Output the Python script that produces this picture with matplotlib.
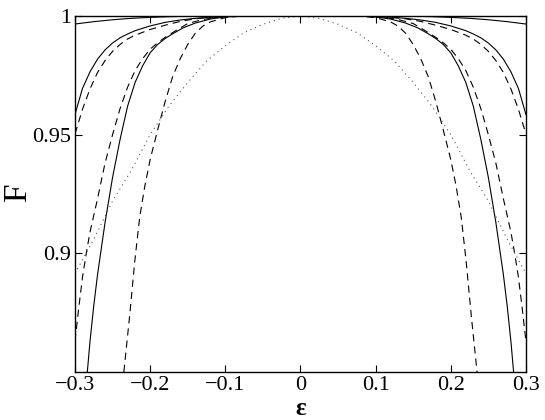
import numpy as np
import matplotlib
matplotlib.use("Agg")
import matplotlib.pyplot as plt

# ---------------- data ----------------
# top solid line, nearly flat
eps_a = [-0.3, -0.275, -0.25, -0.225, -0.2, -0.175, -0.15, -0.1, -0.05, 0.0,
         0.05, 0.1, 0.15, 0.175, 0.2, 0.225, 0.25, 0.275, 0.3]
F_a = [0.9966, 0.9976, 0.9984, 0.9990, 0.9994, 0.9997, 0.9999, 1.0, 1.0, 1.0,
       1.0, 1.0, 0.9999, 0.9997, 0.9994, 0.9990, 0.9984, 0.9976, 0.9966]

# outer solid line
eps_b = [-0.3, -0.29, -0.28, -0.27, -0.26, -0.25, -0.24, -0.23, -0.22, -0.2, -0.18, -0.16,
         -0.14, -0.12, -0.1, -0.05, 0.0, 0.05, 0.1, 0.12, 0.14, 0.16, 0.18, 0.2, 0.22,
         0.23, 0.24, 0.25, 0.26, 0.27, 0.28, 0.29, 0.3]
F_b = [0.9585, 0.9695, 0.9765, 0.9818, 0.9857, 0.9886, 0.9908, 0.9924, 0.9938, 0.9958, 0.9973, 0.9983,
       0.9990, 0.9995, 0.9998, 1.0, 1.0, 1.0, 0.9998, 0.9995, 0.9990, 0.9983, 0.9973, 0.9958, 0.9938,
       0.9924, 0.9908, 0.9886, 0.9857, 0.9818, 0.9765, 0.9695, 0.9585]

# outer dashed line
eps_c = [-0.3, -0.29, -0.28, -0.27, -0.26, -0.25, -0.24, -0.23, -0.22, -0.2, -0.18, -0.16,
         -0.14, -0.12, -0.1, -0.05, 0.0, 0.05, 0.1, 0.12, 0.14, 0.16, 0.18, 0.2, 0.22,
         0.23, 0.24, 0.25, 0.26, 0.27, 0.28, 0.29, 0.3]
F_c = [0.9503, 0.9607, 0.9693, 0.9762, 0.9812, 0.9851, 0.9880, 0.9903, 0.9919, 0.9943, 0.9961, 0.9977,
       0.9988, 0.9994, 0.9998, 1.0, 1.0, 1.0, 0.9998, 0.9994, 0.9988, 0.9977, 0.9961, 0.9943, 0.9919,
       0.9903, 0.9880, 0.9851, 0.9812, 0.9762, 0.9693, 0.9607, 0.9503]

# middle dashed line
eps_d = [-0.3, -0.295, -0.29, -0.285, -0.28, -0.27, -0.26, -0.25, -0.24, -0.23, -0.22, -0.21,
         -0.2, -0.19, -0.18, -0.165, -0.15, -0.13, -0.11, -0.09, -0.05, 0.0,
         0.05, 0.09, 0.11, 0.13, 0.15, 0.165, 0.18, 0.19, 0.2, 0.21, 0.22, 0.23,
         0.24, 0.25, 0.26, 0.27, 0.28, 0.285, 0.29, 0.295, 0.3]
F_d = [0.863, 0.877, 0.890, 0.900, 0.909, 0.923, 0.938, 0.950, 0.961, 0.970, 0.977, 0.982,
       0.986, 0.9887, 0.991, 0.994, 0.9968, 0.9985, 0.9995, 0.9999, 1.0, 1.0,
       1.0, 0.9999, 0.9995, 0.9985, 0.9968, 0.994, 0.991, 0.9887, 0.986, 0.982, 0.977, 0.970,
       0.961, 0.950, 0.938, 0.923, 0.909, 0.900, 0.890, 0.877, 0.863]

# middle solid line
eps_e = [-0.2836, -0.28, -0.275, -0.27, -0.265, -0.26, -0.25, -0.24, -0.23, -0.22, -0.21,
         -0.2, -0.19, -0.18, -0.17, -0.156, -0.14, -0.12, -0.1, -0.08, -0.05, 0.0,
         0.05, 0.08, 0.1, 0.12, 0.14, 0.156, 0.17, 0.18, 0.19, 0.2,
         0.21, 0.22, 0.23, 0.24, 0.25, 0.26, 0.265, 0.27, 0.275, 0.28, 0.2836]
F_e = [0.850, 0.863, 0.878, 0.891, 0.902, 0.913, 0.932, 0.948, 0.962, 0.972, 0.979,
       0.9845, 0.988, 0.9905, 0.9925, 0.995, 0.997, 0.9987, 0.9996, 0.9999, 1.0, 1.0,
       1.0, 0.9999, 0.9996, 0.9987, 0.997, 0.995, 0.9925, 0.9905, 0.988, 0.9845,
       0.979, 0.972, 0.962, 0.948, 0.932, 0.913, 0.902, 0.891, 0.878, 0.863, 0.850]

# inner dashed line
eps_f = [-0.235, -0.2275, -0.2205, -0.214, -0.207, -0.2, -0.19, -0.18, -0.17, -0.16, -0.15,
         -0.14, -0.13, -0.12, -0.1, -0.08, -0.05, 0.0, 0.05, 0.08, 0.1, 0.12, 0.13, 0.14,
         0.15, 0.16, 0.17, 0.18, 0.19, 0.2, 0.207, 0.214, 0.2205, 0.2275, 0.235]
F_f = [0.850, 0.873, 0.8965, 0.915, 0.9285, 0.9395, 0.952, 0.964, 0.9745, 0.982, 0.988,
       0.9927, 0.9957, 0.9975, 0.9993, 0.9999, 1.0, 1.0, 1.0, 0.9999, 0.9993, 0.9975, 0.9957, 0.9927,
       0.988, 0.982, 0.9745, 0.964, 0.952, 0.9395, 0.9285, 0.915, 0.8965, 0.873, 0.850]

# dotted line
eps_g = [-0.3, -0.275, -0.25, -0.225, -0.2, -0.175, -0.15, -0.125, -0.1, -0.075, -0.05, -0.025, 0.0,
         0.025, 0.05, 0.075, 0.1, 0.125, 0.15, 0.175, 0.2, 0.225, 0.25, 0.275, 0.3]
F_g = [0.8915, 0.906, 0.922, 0.935, 0.950, 0.962, 0.972, 0.981, 0.9875, 0.993, 0.9965, 0.999, 1.0,
       0.999, 0.9965, 0.993, 0.9875, 0.981, 0.972, 0.962, 0.950, 0.935, 0.922, 0.906, 0.8915]

x_ticks = [-0.3, -0.2, -0.1, 0, 0.1, 0.2, 0.3]
x_ticklabels = ["\u22120.3", "\u22120.2", "\u22120.1", "0", "0.1", "0.2", "0.3"]
y_ticks = [0.9, 0.95, 1.0]
y_ticklabels = ["0.9", "0.95", "1"]

# ---------------- plot ----------------
plt.rcParams['font.family'] = ['Liberation Serif', 'DejaVu Serif']

fig = plt.figure(figsize=(5.45, 4.2), dpi=100)
ax = fig.add_axes([0.1376, 0.1143, 0.8274, 0.8477])

lw = 0.8
dash = (0, (6.5, 4.5))
ax.plot(eps_a, F_a, color='black', lw=lw)
ax.plot(eps_b, F_b, color='black', lw=lw)
ax.plot(eps_c, F_c, color='black', lw=lw, ls=dash)
ax.plot(eps_d, F_d, color='black', lw=lw, ls=dash)
ax.plot(eps_e, F_e, color='black', lw=lw)
ax.plot(eps_f, F_f, color='black', lw=lw, ls=dash)
ax.plot(eps_g, F_g, color='0.35', lw=0.8, ls=(0, (1, 3.5)))

ax.set_xlim(-0.3, 0.3)
ax.set_ylim(0.85, 1.0)
ax.set_xticks(x_ticks)
ax.set_xticklabels(x_ticklabels)
ax.set_yticks(y_ticks)
ax.set_yticklabels(y_ticklabels)
ax.tick_params(direction='in', top=True, right=True, length=5, width=0.8,
               labelsize=16)
ax.tick_params(axis='x', pad=3)
ax.tick_params(axis='y', pad=3)
for s in ax.spines.values():
    s.set_linewidth(1.0)

# axis labels placed by hand, as in the original figure
fig.text(0.552, 0.0, "\u03b5", fontsize=18, fontweight='bold', ha='center', va='bottom')
fig.text(0.032, 0.54, "F", fontsize=24, rotation=90, ha='center', va='center')

fig.savefig("out.png", dpi=100)
